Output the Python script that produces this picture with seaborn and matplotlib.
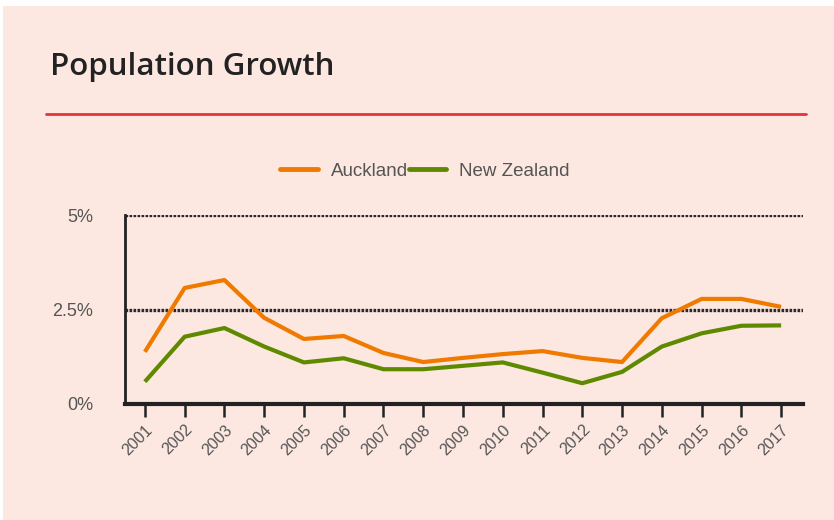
import pandas as pd
import matplotlib
matplotlib.use('Agg')
import matplotlib.pyplot as plt
from matplotlib.patches import Rectangle
from matplotlib.lines import Line2D
import seaborn as sns

# Данные (годовой прирост населения, %)
years = list(range(2001, 2018))
auckland = [1.38, 3.07, 3.28, 2.28, 1.72, 1.80, 1.35, 1.11, 1.22, 1.32,
            1.40, 1.22, 1.11, 2.27, 2.78, 2.78, 2.57]
new_zealand = [0.59, 1.78, 2.01, 1.52, 1.10, 1.21, 0.92, 0.92, 1.01, 1.10,
               0.83, 0.55, 0.85, 1.52, 1.87, 2.07, 2.08]
series_names = ['Auckland', 'New Zealand']
y_ticks = [0, 2.5, 5]
y_tick_labels = ['0%', '2.5%', '5%']

df = pd.DataFrame({'year': years, 'Auckland': auckland, 'New Zealand': new_zealand})
df_long = df.melt(id_vars='year', var_name='region', value_name='growth')

bg = '#fce8e1'
colors = {'Auckland': '#f07a00', 'New Zealand': '#5f8a00'}

sns.set_style('white')
plt.rcParams['font.family'] = ['Liberation Sans', 'DejaVu Sans']

fig = plt.figure(figsize=(8.34, 5.2), dpi=100, facecolor=bg)
# белая рамка сверху и слева
fig.patches.append(Rectangle((0, 1 - 6 / 520), 1, 6 / 520, transform=fig.transFigure,
                             facecolor='white', edgecolor='none', zorder=0))
fig.patches.append(Rectangle((0, 0), 3 / 834, 1, transform=fig.transFigure,
                             facecolor='white', edgecolor='none', zorder=0))

# заголовок и красная линия
fig.text(50 / 834, 1 - 67 / 520, 'Population Growth', fontsize=22.5, fontweight='semibold',
         family='Open Sans', color='#222222', va='center', ha='left')
fig.add_artist(Line2D([46 / 834, 806 / 834], [1 - 114 / 520] * 2, transform=fig.transFigure,
                      color='#e8323a', lw=2))

ax = fig.add_axes([125 / 834, 116 / 520, 678 / 834, 189 / 520])
ax.set_facecolor(bg)

sns.lineplot(data=df_long, x='year', y='growth', hue='region', palette=colors,
             linewidth=3.0, ax=ax, legend=False, solid_joinstyle='round', solid_capstyle='butt')

ax.set_xlim(2000.5, 2017.55)
ax.set_ylim(0, 5)
ax.set_xticks(years)
ax.set_xticklabels([str(y) for y in years], rotation=45, ha='right', rotation_mode='anchor',
                   fontsize=11.5, color='#555555')
ax.set_yticks(y_ticks)
ax.set_yticklabels(y_tick_labels, fontsize=13, color='#555555')
ax.set_xlabel('')
ax.set_ylabel('')

# пунктирная сетка
for yv in [2.5, 5]:
    ax.axhline(yv, color='#2a2a2a', lw=2.4, ls=(0, (0.8, 0.4)), zorder=1)

for side in ['top', 'right']:
    ax.spines[side].set_visible(False)
ax.spines['left'].set_color('#222222')
ax.spines['left'].set_linewidth(2)
ax.spines['bottom'].set_color('#222222')
ax.spines['bottom'].set_linewidth(3)
ax.tick_params(axis='x', direction='out', length=9, width=1.8, color='#222222', pad=4,
               bottom=True)
ax.tick_params(axis='y', length=0, pad=23)

handles = [Line2D([0], [0], color=colors[n], lw=3.5) for n in series_names]
fig.legend(handles, series_names, loc='center', bbox_to_anchor=(425 / 834, 1 - 171 / 520),
           ncol=2, frameon=False, fontsize=13.5, handlelength=2.0, handletextpad=0.7,
           columnspacing=0.05, labelcolor='#555555')

fig.savefig('out.png', dpi=100, facecolor=bg)
